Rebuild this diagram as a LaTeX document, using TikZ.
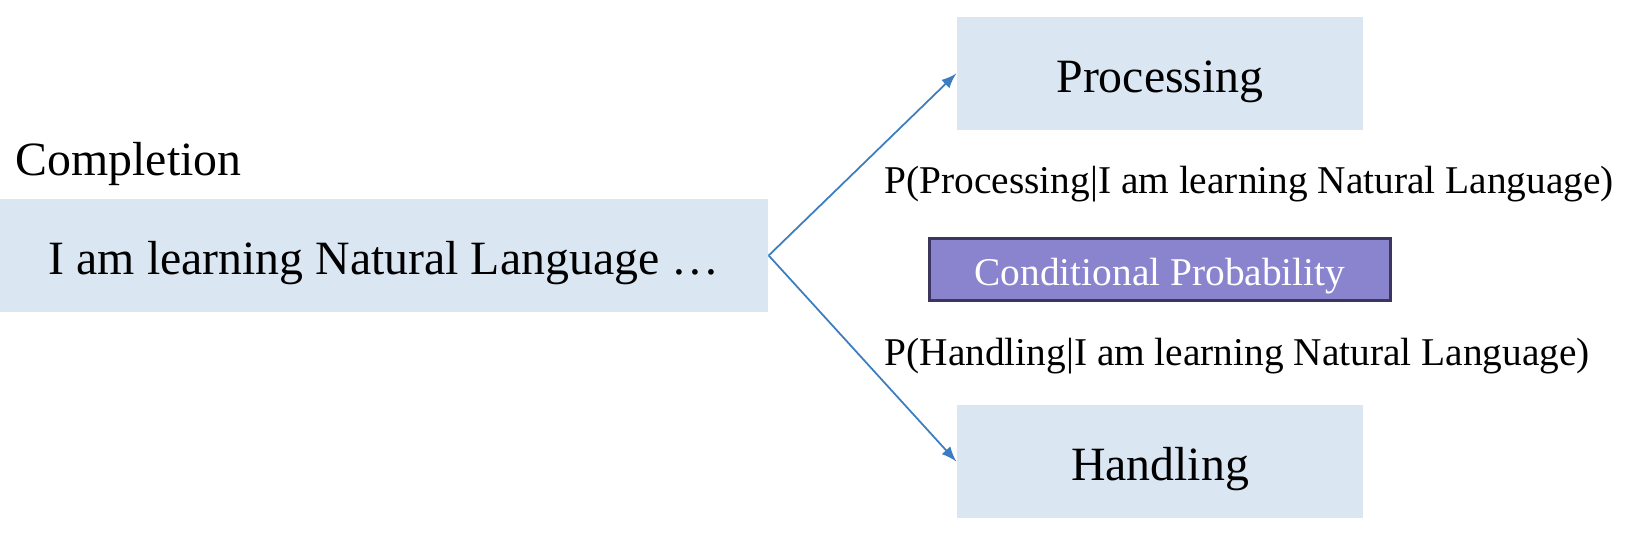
\documentclass[tikz,border=0pt]{standalone}
\usepackage{fontspec}
\setmainfont{Liberation Serif}
\usepackage{tikz}
\usetikzlibrary{arrows}

\definecolor{boxblue}{HTML}{DAE6F2}
\definecolor{arrowblue}{HTML}{3B7DBE}
\definecolor{cpfill}{HTML}{8A84CF}
\definecolor{cpdraw}{HTML}{3C355E}

\begin{document}
\begin{tikzpicture}
% Default actions for each node
\tikzstyle{wordbox} = [fill=boxblue, draw=none, inner sep=0pt, text height=0.38cm, text depth=0pt, font=\fontsize{13.6}{16}\selectfont]
\tikzstyle{edge} = [draw, arrowblue, line width=0.5pt, -latex]
\tikzstyle{prob} = [font=\fontsize{11.2}{13}\selectfont, inner sep=0pt, anchor=base west]
\useasboundingbox (0,0) rectangle (16.30,5.42);
% Define the prompt and the two next words
\node [wordbox, minimum width=7.68cm, minimum height=1.13cm] (prompt) at (3.84,2.865) {I am learning Natural Language \dots};
\node [wordbox, minimum width=4.06cm, minimum height=1.13cm] (proc) at (11.60,4.685) {Processing};
\node [wordbox, minimum width=4.06cm, minimum height=1.13cm] (hand) at (11.60,0.805) {Handling};
\node [font=\fontsize{13.6}{16}\selectfont, inner sep=0pt, anchor=base west] (compl) at (0.15,3.67) {Completion};
% Probabilities
\node [prob] (pproc) at (8.84,3.49) {P(Processing|I am learning Natural Language)};
\node [prob] (phand) at (8.84,1.77) {P(Handling|I am learning Natural Language)};
\node [fill=cpfill, draw=cpdraw, line width=0.8pt, text=white, minimum width=4.61cm, minimum height=0.62cm, inner sep=0pt, text height=0.31cm, text depth=0pt, font=\fontsize{11.2}{13}\selectfont] (cond) at (11.60,2.725) {Conditional Probability};
% Draw edges
\draw [edge] (prompt.east) -- (proc.west);
\draw [edge] (prompt.east) -- (hand.west);
\end{tikzpicture}
\end{document}
